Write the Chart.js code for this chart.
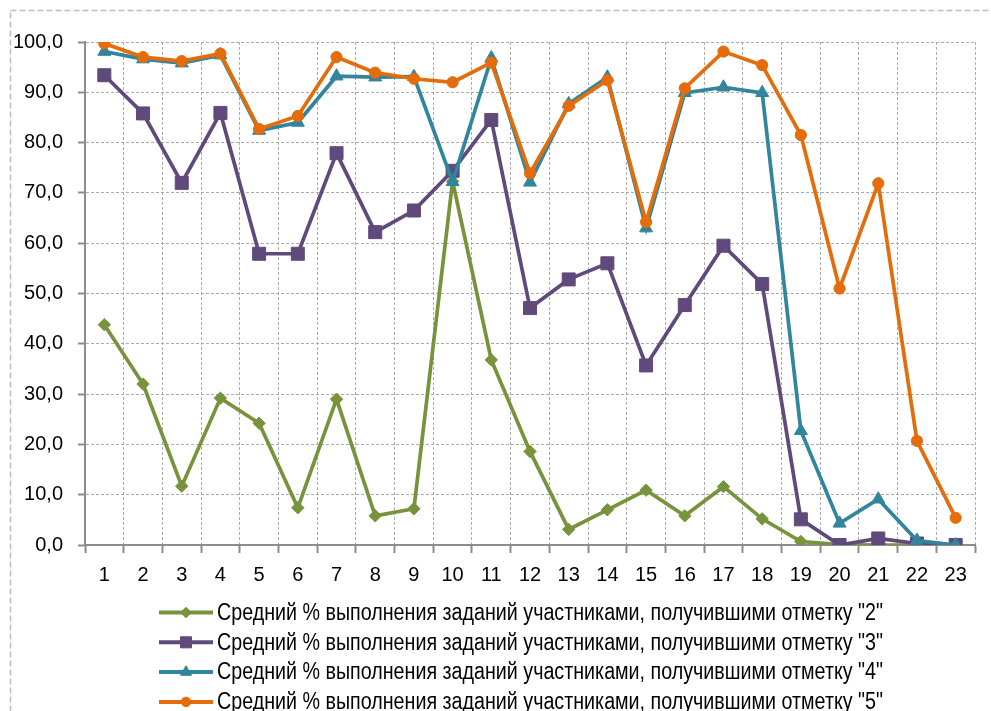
<!DOCTYPE html>
<html lang="ru">
<head>
<meta charset="utf-8">
<title>Средний % выполнения заданий</title>
<script src="https://cdn.jsdelivr.net/npm/chart.js@4/dist/chart.umd.min.js"></script>
<style>
  html, body { margin: 0; padding: 0; background: #fff; overflow: hidden; }
  #wrap { position: relative; width: 991px; height: 711px; }
</style>
</head>
<body>
<div id="wrap"><canvas id="chart" width="991" height="711"></canvas></div>
<script>
// Номера заданий
const tasks = ['1','2','3','4','5','6','7','8','9','10','11','12','13','14','15','16','17','18','19','20','21','22','23'];

// Подписи рядов
const seriesNames = [
  'Средний % выполнения заданий участниками, получившими отметку "2"',
  'Средний % выполнения заданий участниками, получившими отметку "3"',
  'Средний % выполнения заданий участниками, получившими отметку "4"',
  'Средний % выполнения заданий участниками, получившими отметку "5"'
];

// Средний процент выполнения по каждому заданию
const mark2 = [43.8, 32.0, 11.7, 29.2, 24.2, 7.4, 29.0, 5.8, 7.2, 72.3, 36.8, 18.6, 3.1, 7.0, 10.9, 5.8, 11.6, 5.2, 0.7, 0.1, 0.0, 0.0, 0.0];
const mark3 = [93.4, 85.8, 72.0, 85.9, 57.9, 57.9, 77.9, 62.2, 66.5, 74.4, 84.5, 47.1, 52.8, 56.0, 35.7, 47.7, 59.5, 51.9, 5.1, 0.0, 1.3, 0.3, 0.0];
const mark4 = [98.1, 96.6, 95.8, 97.4, 82.4, 84.0, 93.2, 93.0, 93.1, 72.2, 96.8, 72.1, 87.7, 93.0, 63.0, 89.9, 91.0, 89.9, 22.7, 4.3, 9.1, 0.9, 0.0];
const mark5 = [99.7, 97.0, 96.2, 97.7, 82.7, 85.3, 97.0, 93.9, 92.7, 92.0, 95.9, 73.9, 87.3, 92.4, 64.2, 90.8, 98.1, 95.4, 81.5, 51.0, 71.9, 20.7, 5.4];

// Деления оси значений
const yMin = 0, yMax = 100, yStep = 10;

const colors = ['#77933C', '#604A7B', '#31859C', '#E46C0A'];
const markers = [
  { style: 'rectRot',  radius: 6.2 },
  { style: 'rect',     radius: 9.2 },
  { style: 'triangle', radius: 7.5 },
  { style: 'circle',   radius: 5.6 }
];
const seriesValues = [mark2, mark3, mark4, mark5];

const FONT = "'Liberation Sans Narrow', 'Arial Narrow', 'Liberation Sans', Arial, sans-serif";
Chart.defaults.font.family = FONT;
Chart.defaults.color = '#000';

const datasets = seriesValues.map((vals, i) => ({
  label: seriesNames[i],
  data: vals,
  borderColor: colors[i],
  backgroundColor: colors[i],
  borderWidth: 3.7,
  pointStyle: markers[i].style,
  pointRadius: markers[i].radius,
  pointBorderWidth: 1,
  pointBorderColor: colors[i],
  pointBackgroundColor: colors[i],
  tension: 0,
  order: seriesValues.length - 1 - i
}));

// Пунктирная рамка области диаграммы
const frame = {
  id: 'frame',
  beforeDraw(chart) {
    const ctx = chart.ctx;
    ctx.save();
    ctx.strokeStyle = '#bdbdbd';
    ctx.lineWidth = 1.5;
    ctx.setLineDash([6, 3]);
    ctx.strokeRect(10.5, 10.5, 1100, 1100);
    ctx.restore();
  }
};

// Легенда: линия с маркером и подпись (узким начертанием), по строке на ряд
const lineLegend = {
  id: 'lineLegend',
  afterDraw(chart) {
    const ctx = chart.ctx;
    const x0 = 159, x1 = 213, tx = 217, y0 = 612.5, dy = 29.8, textWidth = 666;
    ctx.save();
    chart.data.datasets.forEach((ds, i) => {
      const y = y0 + i * dy;
      ctx.strokeStyle = ds.borderColor;
      ctx.lineWidth = 4;
      ctx.setLineDash([]);
      ctx.beginPath();
      ctx.moveTo(x0, y);
      ctx.lineTo(x1, y);
      ctx.stroke();
      ctx.fillStyle = ds.pointBackgroundColor;
      ctx.strokeStyle = ds.pointBorderColor;
      ctx.lineWidth = 1;
      Chart.helpers.drawPoint(ctx, {
        pointStyle: ds.pointStyle,
        radius: ds.pointRadius * 0.85,
        rotation: 0,
        borderWidth: 1
      }, (x0 + x1) / 2, y);
      ctx.fillStyle = '#000';
      ctx.font = '23px ' + FONT;
      ctx.textBaseline = 'middle';
      ctx.textAlign = 'left';
      const sx = Math.min(1, textWidth / ctx.measureText(ds.label).width);
      ctx.save();
      ctx.translate(tx, y + 1);
      ctx.scale(sx, 1);
      ctx.fillText(ds.label, 0, 0);
      ctx.restore();
    });
    ctx.restore();
  }
};

new Chart(document.getElementById('chart'), {
  type: 'line',
  data: { labels: tasks, datasets },
  options: {
    responsive: false,
    animation: false,
    events: [],
    layout: { padding: { top: 42, right: 16, left: 0, bottom: 116 } },
    plugins: {
      legend: { display: false },
      tooltip: { enabled: false }
    },
    scales: {
      x: {
        offset: true,
        grid: {
          offset: true,
          color: '#ababab',
          lineWidth: 1,
          tickLength: 8,
          tickColor: '#8c8c8c',
          tickWidth: 2,
          tickBorderDash: []
        },
        border: { display: true, color: '#8c8c8c', width: 2, dash: [3, 2] },
        ticks: {
          font: { size: 20 },
          color: '#000',
          padding: 10,
          maxRotation: 0,
          autoSkip: false
        },
        afterFit(scale) { scale.height = 50; }
      },
      y: {
        min: yMin,
        max: yMax,
        grid: {
          color: '#ababab',
          lineWidth: 1,
          tickLength: 7,
          tickColor: '#8c8c8c',
          tickWidth: 2,
          tickBorderDash: []
        },
        border: { display: true, color: '#8c8c8c', width: 2, dash: [3, 2] },
        ticks: {
          stepSize: yStep,
          font: { size: 20 },
          color: '#000',
          padding: 15,
          callback: v => v.toFixed(1).replace('.', ',')
        },
        afterFit(scale) { scale.width = 85; }
      }
    }
  },
  plugins: [frame, lineLegend]
});
</script>
</body>
</html>
